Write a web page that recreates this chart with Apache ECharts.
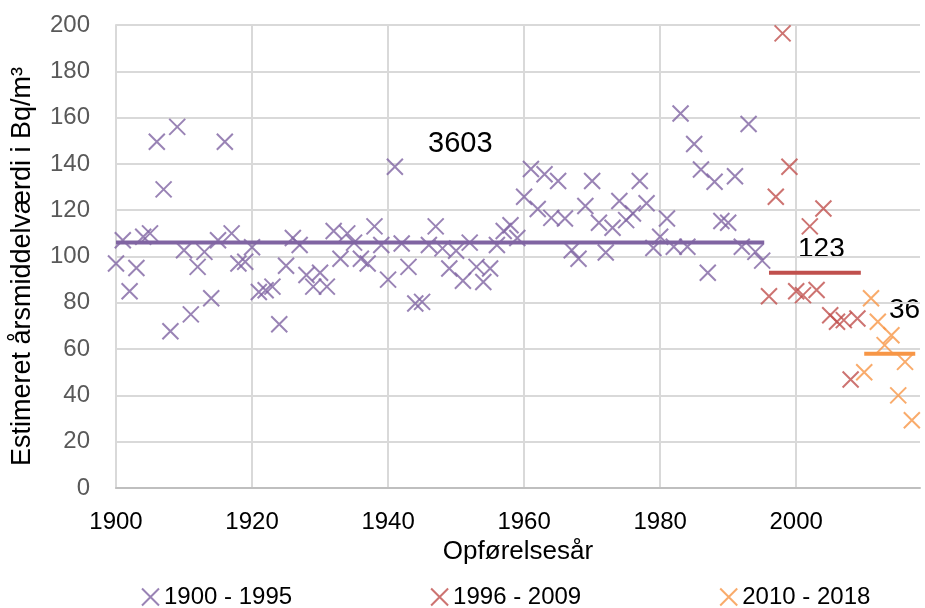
<!DOCTYPE html>
<html>
<head>
<meta charset="utf-8">
<script src="https://cdn.jsdelivr.net/npm/echarts@6/dist/echarts.min.js"></script>
<style>
  html, body { margin: 0; padding: 0; background: #fff; }
  #main { width: 925px; height: 608px; }
</style>
</head>
<body>
<div id="main"></div>
<script>
var FONT = "'Liberation Sans', Arial, sans-serif";

// 1900 - 1995
var years1 = [1900,1901,1902,1903,1904,1905,1906,1907,1908,1909,1910,1911,1912,1913,1914,1915,1916,1917,1918,1919,
  1920,1921,1922,1923,1924,1925,1926,1927,1928,1929,1930,1931,1932,1933,1934,1935,1936,1937,1938,1939,
  1940,1941,1942,1943,1944,1945,1946,1947,1948,1949,1950,1951,1952,1953,1954,1955,1956,1957,1958,1959,
  1960,1961,1962,1963,1964,1965,1966,1967,1968,1969,1970,1971,1972,1973,1974,1975,1976,1977,1978,1979,
  1980,1981,1982,1983,1984,1985,1986,1987,1988,1989,1990,1991,1992,1993,1994,1995];
var values1 = [97,107,85,95,108.5,110,149.6,129,67.7,156,102.7,75,95.5,102,82,107,149.6,110,97,97.7,
  104,84.7,85.4,87,70.7,96,108,105,92,87,93,87,111,99,110,106,99,97,113,105,
  90,138.8,105.6,95.5,79.7,80.4,105,113,103.5,94.8,102.5,89.5,106,95.5,89,94.8,105,111,113.5,108,
  125.8,137.8,120.5,135.5,116.7,132.6,116.4,102.7,99,121.8,132.6,114.6,101.7,112.4,124,115.7,118.6,132.6,123,103.7,
  108.5,116.4,104.2,161.8,104.2,148.6,137.6,93,132.3,115.3,114.6,134.7,104.2,157.2,102,98.2];

// 1996 - 2009
var years2 = [1996,1997,1998,1999,2000,2001,2002,2003,2004,2005,2006,2007,2008,2009];
var values2 = [82.8,125.8,196.4,138.8,85,83.3,113,85.5,120.7,74.6,71.8,72.5,46.9,73.2];

// 2010 - 2018
var years3 = [2010,2011,2012,2013,2014,2015,2016,2017];
var values3 = [50,82,71.8,61.7,66,40,54.5,29.3];

var seriesNames = ['1900 - 1995', '1996 - 2009', '2010 - 2018'];
var seriesColors = ['#8064a2', '#c0504d', '#f79646'];

// average lines per period and house counts
var meanValues = [106, 93, 58];
var meanFrom = [1900, 1996, 2010];
var meanTo = [1995.3, 2009.5, 2017.5];
var counts = ['3603', '123', '36'];

var xTicks = [1900, 1920, 1940, 1960, 1980, 2000];

function pairs(xs, ys) {
  return xs.map(function (x, i) { return [x, ys[i]]; });
}

var crossPath = 'path://M0,0L10,10M10,0L0,10';

var series = [];
[[years1, values1], [years2, values2], [years3, values3]].forEach(function (d, i) {
  series.push({
    name: seriesNames[i],
    type: 'scatter',
    symbol: crossPath,
    symbolSize: 16,
    itemStyle: { color: seriesColors[i], borderColor: seriesColors[i], borderWidth: 2 },
    data: pairs(d[0], d[1]),
    z: 3
  });
});
meanValues.forEach(function (m, i) {
  series.push({
    name: 'mean' + i,
    type: 'line',
    showSymbol: false,
    symbol: 'none',
    lineStyle: { color: seriesColors[i], width: 4 },
    data: [[meanFrom[i], m], [meanTo[i], m]],
    z: 4,
    silent: true
  });
});

var myChart = echarts.init(document.getElementById('main'));
var option = {
  animation: false,
  textStyle: { fontFamily: FONT },
  grid: { left: 116, right: 5, top: 25, bottom: 120, containLabel: false },
  xAxis: {
    type: 'value',
    min: 1900,
    max: 2018.2,
    interval: 20,
    name: 'Opførelsesår',
    nameLocation: 'middle',
    nameGap: 50,
    nameTextStyle: { color: '#000', fontSize: 26, fontFamily: FONT },
    axisLine: { show: true, lineStyle: { color: '#bfbfbf', width: 2 } },
    axisTick: { show: false },
    axisLabel: {
      color: '#000', fontSize: 24, fontFamily: FONT, margin: 22,
      showMaxLabel: false,
      formatter: function (v) { return xTicks.indexOf(v) >= 0 ? String(v) : ''; }
    },
    splitLine: { show: true, showMaxLine: false, lineStyle: { color: '#d9d9d9', width: 2 } }
  },
  yAxis: {
    type: 'value',
    min: 0,
    max: 200,
    interval: 20,
    name: 'Estimeret årsmiddelværdi i Bq/m³',
    nameLocation: 'middle',
    nameGap: 80,
    nameTextStyle: { color: '#000', fontSize: 27, fontFamily: FONT, padding: [0, 20, 0, 0] },
    axisLine: { show: true, lineStyle: { color: '#d9d9d9', width: 2 } },
    axisTick: { show: false },
    axisLabel: { color: '#595959', fontSize: 24, fontFamily: FONT, margin: 26 },
    splitLine: { show: true, lineStyle: { color: '#d9d9d9', width: 2 } }
  },
  legend: {
    data: seriesNames,
    left: 141,
    top: 585,
    padding: 0,
    itemGap: 138,
    itemWidth: 17,
    itemHeight: 17,
    icon: crossPath,
    textStyle: { color: '#000', fontSize: 24, fontFamily: FONT }
  },
  graphic: [
    { type: 'text', left: 428, top: 129, style: { text: counts[0], fill: '#000', font: '29px ' + FONT } },
    { type: 'text', left: 798, top: 235, style: { text: counts[1], fill: '#000', font: '28px ' + FONT } },
    { type: 'text', left: 889, top: 296, style: { text: counts[2], fill: '#000', font: '28px ' + FONT } }
  ],
  series: series
};
myChart.setOption(option);
</script>
</body>
</html>
